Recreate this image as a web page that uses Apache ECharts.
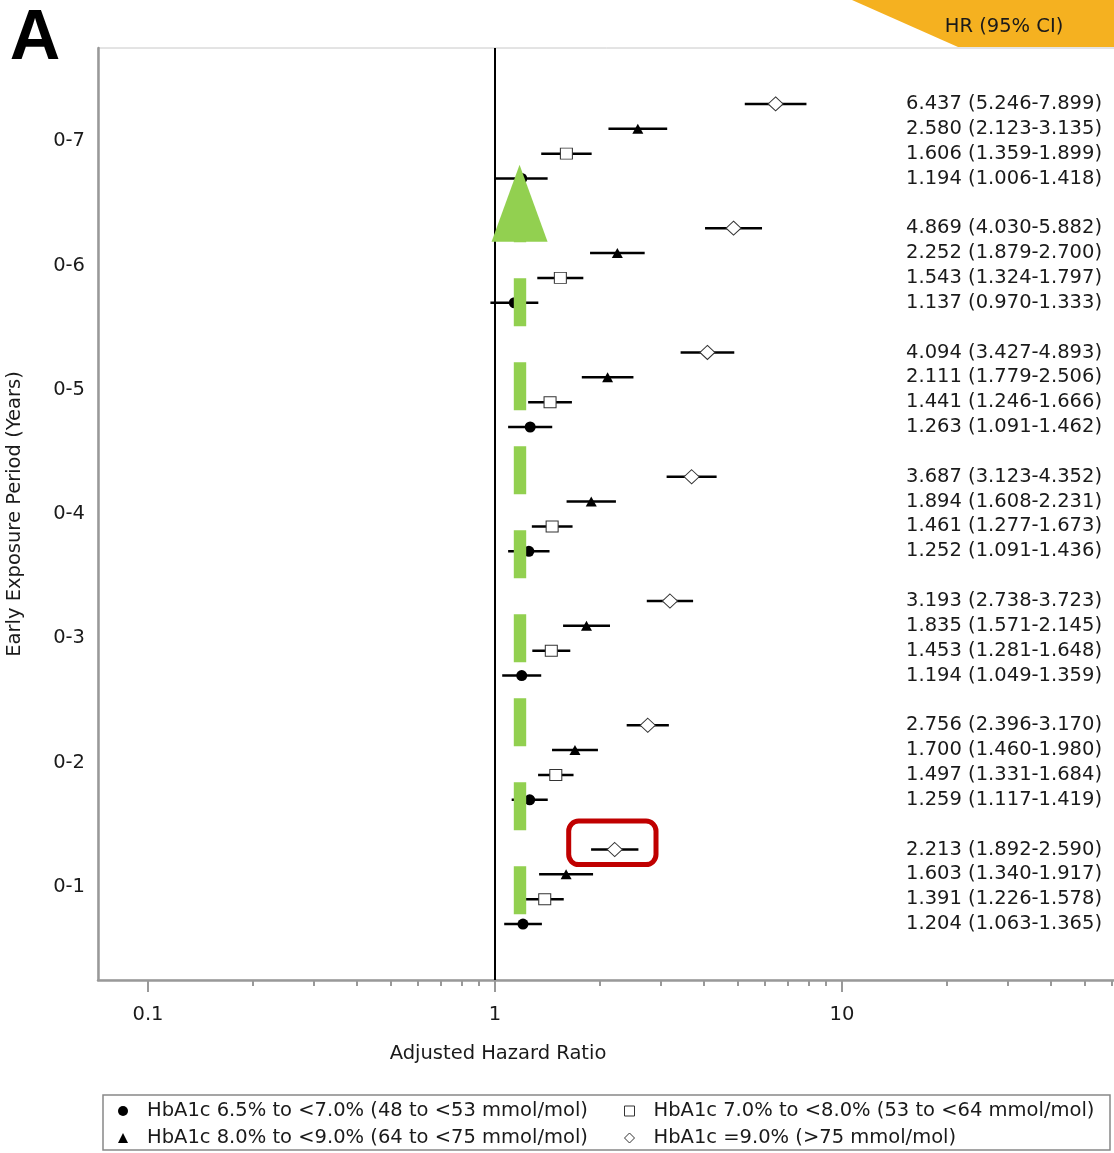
<!DOCTYPE html>
<html><head><meta charset="utf-8">
<script src="https://cdn.jsdelivr.net/npm/echarts@6/dist/echarts.min.js"></script>
<style>html,body{margin:0;padding:0;background:#fff}#c{width:1114px;height:1153px}</style>
</head><body><div id="c"></div>
<script>
// ---- data ----
const periods = ['0-1','0-2','0-3','0-4','0-5','0-6','0-7'];
const seriesNames = [
  'HbA1c 6.5% to <7.0% (48 to <53 mmol/mol)',
  'HbA1c 7.0% to <8.0% (53 to <64 mmol/mol)',
  'HbA1c 8.0% to <9.0% (64 to <75 mmol/mol)',
  'HbA1c =9.0% (>75 mmol/mol)'
];
const c1_hr = [1.204,1.259,1.194,1.252,1.263,1.137,1.194];
const c1_lo = [1.063,1.117,1.049,1.091,1.091,0.970,1.006];
const c1_hi = [1.365,1.419,1.359,1.436,1.462,1.333,1.418];
const c2_hr = [1.391,1.497,1.453,1.461,1.441,1.543,1.606];
const c2_lo = [1.226,1.331,1.281,1.277,1.246,1.324,1.359];
const c2_hi = [1.578,1.684,1.648,1.673,1.666,1.797,1.899];
const c3_hr = [1.603,1.700,1.835,1.894,2.111,2.252,2.580];
const c3_lo = [1.340,1.460,1.571,1.608,1.779,1.879,2.123];
const c3_hi = [1.917,1.980,2.145,2.231,2.506,2.700,3.135];
const c4_hr = [2.213,2.756,3.193,3.687,4.094,4.869,6.437];
const c4_lo = [1.892,2.396,2.738,3.123,3.427,4.030,5.246];
const c4_hi = [2.590,3.170,3.723,4.352,4.893,5.882,7.899];
const xTickValues = [0.1, 1, 10];
const xTickLabels = ['0.1', '1', '10'];
const xMinorValues = [0.2,0.3,0.4,0.5,0.6,0.7,0.8,0.9,2,3,4,5,6,7,8,9,20,30,40,50,60];
const arrowHR = 1.177;       // green arrow annotation position
const highlightGroup = 0;    // red box around 0-1, HbA1c >=9.0%

// ---- layout / style ----
const FONT = '"DejaVu Sans", sans-serif';
const FS = 19.5;
const TXT = '#1a1a1a';
const L = Math.log10;
const X_MIN = -1.1441, X_MAX = 1.8127;
const Y_MIN = -2.25, Y_MAX = 35.25;
const rowY = (g, k) => 5 * g + k;

const classes = [
  {hr:c1_hr, lo:c1_lo, hi:c1_hi, symbol:'circle',   size:11,      fill:'#000', border:'#000', bw:0},
  {hr:c2_hr, lo:c2_lo, hi:c2_hi, symbol:'rect',     size:[12,11], fill:'#fff', border:'#333', bw:1},
  {hr:c3_hr, lo:c3_lo, hi:c3_hi, symbol:'triangle', size:[11,10], fill:'#000', border:'#000', bw:0},
  {hr:c4_hr, lo:c4_lo, hi:c4_hi, symbol:'diamond',  size:[15,14], fill:'#fff', border:'#333', bw:1}
];

const barData = [];
const labelMap = {};
classes.forEach((c, k) => {
  periods.forEach((p, g) => {
    barData.push([L(c.lo[g]), L(c.hi[g]), rowY(g, k)]);
    labelMap[rowY(g, k)] = c.hr[g].toFixed(3) + ' (' + c.lo[g].toFixed(3) + '-' + c.hi[g].toFixed(3) + ')';
  });
});

const series = [];
series.push({
  type: 'custom', name: 'ci', z: 2, silent: true,
  renderItem: (params, api) => {
    const a = api.coord([api.value(0), api.value(2)]);
    const b = api.coord([api.value(1), api.value(2)]);
    return {type: 'line', shape: {x1: a[0], y1: a[1], x2: b[0], y2: b[1]}, style: {stroke: '#000', lineWidth: 2.5}};
  },
  data: barData,
  markLine: {
    silent: true, symbol: 'none', z: 1, animation: false,
    label: {show: false},
    lineStyle: {color: '#000', width: 2, type: 'solid'},
    data: [{xAxis: 0}]
  }
});
classes.forEach((c, k) => {
  series.push({
    type: 'scatter', name: seriesNames[k], z: 3, silent: true,
    symbol: c.symbol, symbolSize: c.size,
    itemStyle: {color: c.fill, borderColor: c.border, borderWidth: c.bw, opacity: 1},
    emphasis: {disabled: true},
    data: periods.map((p, g) => [L(c.hr[g]), rowY(g, k)])
  });
});
// green arrow annotation
series.push({
  type: 'scatter', name: 'arrow', z: 5, silent: true, data: [],
  markLine: {
    silent: true, animation: false, z: 5,
    symbol: ['none', 'triangle'], symbolSize: [56, 77],
    label: {show: false},
    itemStyle: {color: '#92D050'},
    lineStyle: {color: '#92D050', width: 12.4, type: [48, 36], opacity: 1, cap: 'butt'},
    emphasis: {disabled: true},
    data: [[{coord: [L(arrowHR), 0.4]}, {coord: [L(arrowHR), 29.0]}]]
  }
});
// red highlight box
series.push({
  type: 'custom', name: 'box', z: 6, silent: true,
  renderItem: (params, api) => {
    const p = api.coord([api.value(0), api.value(1)]);
    return {type: 'rect', shape: {x: p[0] - 46, y: p[1] - 28.4, width: 87.3, height: 43.5, r: 10},
            style: {fill: 'none', stroke: '#C00000', lineWidth: 5}};
  },
  data: [[L(c4_hr[highlightGroup]), rowY(highlightGroup, 3)]]
});

const legendPos = [[118, 1101], [624, 1101], [118, 1128], [624, 1128]];
const legends = seriesNames.map((n, i) => ({
  data: [n], left: legendPos[i][0], top: legendPos[i][1], padding: 0,
  itemWidth: 10, itemHeight: 10, selectedMode: false,
  itemStyle: {borderWidth: classes[i].bw},
  formatter: name => '{s| }{t|' + name + '}',
  textStyle: {
    rich: {
      s: {width: 14, fontSize: FS, fontFamily: FONT},
      t: {fontSize: FS, fontFamily: FONT, color: TXT, lineHeight: 20}
    }
  }
}));

const option = {
  animation: false,
  backgroundColor: '#fff',
  grid: {left: 98, top: 48, right: -10, bottom: 173, show: true, borderColor: '#c8c8c8', borderWidth: 1,
         containLabel: false, outerBoundsMode: 'none'},
  xAxis: [
    {
      type: 'value', min: X_MIN, max: X_MAX, position: 'bottom',
      axisLine: {show: true, onZero: false, lineStyle: {color: '#999', width: 2.5}},
      axisTick: {show: true, customValues: xTickValues.map(L), length: 12, lineStyle: {color: '#999', width: 2}},
      axisLabel: {customValues: xTickValues.map(L), margin: 25, fontSize: FS, fontFamily: FONT, color: TXT,
        formatter: v => xTickLabels[xTickValues.findIndex(t => Math.abs(L(t) - v) < 1e-6)] || ''},
      splitLine: {show: false}
    },
    {
      type: 'value', min: X_MIN, max: X_MAX, position: 'bottom',
      axisLine: {show: false, onZero: false},
      axisTick: {show: true, customValues: xMinorValues.map(L), length: 6, lineStyle: {color: '#999', width: 2}},
      axisLabel: {show: false},
      splitLine: {show: false}
    }
  ],
  yAxis: [
    {
      type: 'value', min: Y_MIN, max: Y_MAX,
      name: 'Early Exposure Period (Years)', nameLocation: 'middle', nameGap: 73,
      nameTextStyle: {fontSize: FS, fontFamily: FONT, color: TXT},
      axisLine: {show: true, onZero: false, lineStyle: {color: '#999', width: 2.5}},
      axisTick: {show: false},
      axisLabel: {customValues: periods.map((p, g) => rowY(g, 1.5)), margin: 13, fontSize: FS, fontFamily: FONT, color: TXT,
        formatter: v => periods[Math.round((v - 1.5) / 5)]},
      splitLine: {show: false}
    },
    {
      type: 'value', min: Y_MIN, max: Y_MAX, position: 'right',
      axisLine: {show: false, onZero: false}, axisTick: {show: false}, splitLine: {show: false},
      axisLabel: {inside: true, margin: 22, customValues: Object.keys(labelMap).map(Number),
        fontSize: FS, fontFamily: FONT, color: TXT, formatter: v => labelMap[v] || ''}
    }
  ],
  legend: legends,
  graphic: [
    {type: 'polygon', z: 10, shape: {points: [[852, 0], [1114, 0], [1114, 47], [958, 47]]}, style: {fill: '#F5B120'}},
    {type: 'text', z: 11, x: 1004, y: 27, style: {text: 'HR (95% CI)', fontSize: FS, fontFamily: FONT, fill: TXT, align: 'center', verticalAlign: 'middle'}},
    {type: 'text', z: 11, x: 35, y: 40, style: {text: 'A', fontSize: 70, fontWeight: 'bold', fontFamily: '"Liberation Sans", Arial, sans-serif', fill: '#000', align: 'center', verticalAlign: 'middle'}},
    {type: 'text', z: 11, x: 498, y: 1054, style: {text: 'Adjusted Hazard Ratio', fontSize: FS, fontFamily: FONT, fill: TXT, align: 'center', verticalAlign: 'middle'}},
    {type: 'rect', z: 11, shape: {x: 103, y: 1095, width: 1007, height: 55}, style: {fill: 'none', stroke: '#888', lineWidth: 1.5}}
  ],
  series: series
};
const chart = echarts.init(document.getElementById('c'), null, {renderer: 'canvas'});
chart.setOption(option);
</script>
</body></html>
